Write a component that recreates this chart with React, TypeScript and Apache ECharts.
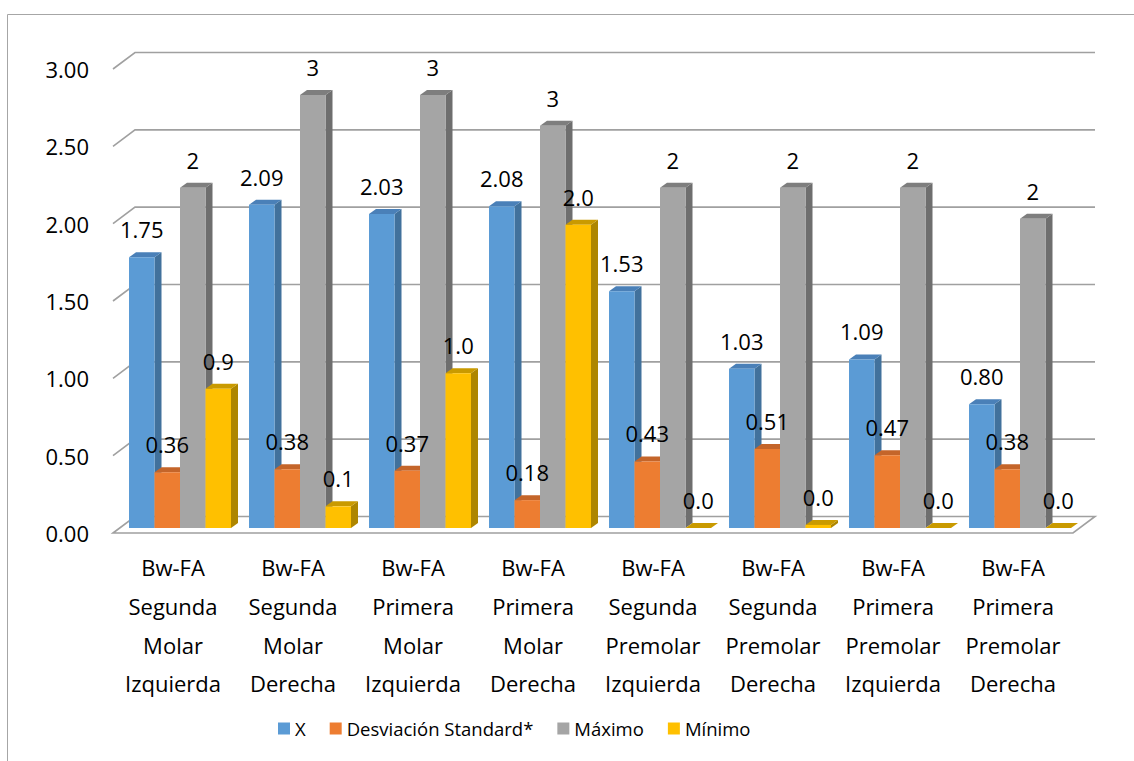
import React, { useEffect, useRef } from "react";
import * as echarts from "echarts";

const categories = [
  "Bw-FA\nSegunda\nMolar\nIzquierda",
  "Bw-FA\nSegunda\nMolar\nDerecha",
  "Bw-FA\nPrimera\nMolar\nIzquierda",
  "Bw-FA\nPrimera\nMolar\nDerecha",
  "Bw-FA\nSegunda\nPremolar\nIzquierda",
  "Bw-FA\nSegunda\nPremolar\nDerecha",
  "Bw-FA\nPrimera\nPremolar\nIzquierda",
  "Bw-FA\nPrimera\nPremolar\nDerecha",
];
const seriesNames = ["X", "Desviación Standard*", "Máximo", "Mínimo"];
const xMean = [1.75, 2.09, 2.03, 2.08, 1.53, 1.03, 1.09, 0.8];
const sdValues = [0.36, 0.38, 0.37, 0.18, 0.43, 0.51, 0.47, 0.38];
const maxValues = [2.2, 2.8, 2.8, 2.6, 2.2, 2.2, 2.2, 2.0];
const minValues = [0.9, 0.14, 1.0, 1.96, 0.0, 0.02, 0.0, 0.0];
const labelDecimals = [2, 2, 0, 1];
const yTicks = [0, 0.5, 1, 1.5, 2, 2.5, 3];

const FONT = "'Open Sans', 'Noto Sans', sans-serif";
const faceColors = [
  { front: "#5B9BD5", side: "#41719C", top: "#4A80B8" },
  { front: "#ED7D31", side: "#B55E22", top: "#C4652A" },
  { front: "#A5A5A5", side: "#6E6E6E", top: "#7E7E7E" },
  { front: "#FFC000", side: "#AE8600", top: "#C99A00" },
];

// 3D projection offsets
const WALL_DX = 22;
const WALL_DY = -16.5;
const FRONT_DX = 7;
const FRONT_DY = -5;
const BAR_DX = 7;
const BAR_DY = -5;
const BAR_FRAC = 0.2125;

function gridRender(params: any, api: any) {
  const cs = params.coordSys;
  const left = cs.x;
  const right = cs.x + cs.width;
  const v = api.value(1);
  const y = api.coord([0, v])[1];
  if (v === 0) {
    return {
      type: "polygon",
      shape: {
        points: [
          [left, y],
          [left + WALL_DX, y + WALL_DY],
          [right + WALL_DX, y + WALL_DY],
          [right, y],
        ],
      },
      style: { fill: "#FFFFFF", stroke: "#A0A0A0", lineWidth: 1.6 },
    };
  }
  return {
    type: "polyline",
    shape: {
      points: [
        [left, y],
        [left + WALL_DX, y + WALL_DY],
        [right + WALL_DX, y + WALL_DY],
      ],
    },
    style: { fill: "none", stroke: "#A0A0A0", lineWidth: 1.6 },
  };
}

function makeBarRender(k: number) {
  const c = faceColors[k];
  return (params: any, api: any) => {
    const i = api.value(0);
    const v = api.value(1);
    const base = api.coord([i, 0]);
    const top = api.coord([i, v]);
    const bw = api.size([1, 0])[0];
    const w = bw * BAR_FRAC;
    const cx = base[0] + FRONT_DX + (k - 1.5) * w;
    const x0 = cx - w / 2;
    const x1 = cx + w / 2;
    const yb = base[1] + FRONT_DY;
    const yt = top[1] + FRONT_DY;
    const zb = k * 3;
    return {
      type: "group",
      children: [
        {
          type: "polygon",
          z2: zb,
          shape: {
            points: [
              [x1, yt],
              [x1 + BAR_DX, yt + BAR_DY],
              [x1 + BAR_DX, yb + BAR_DY],
              [x1, yb],
            ],
          },
          style: { fill: c.side },
        },
        {
          type: "polygon",
          z2: zb + 1,
          shape: {
            points: [
              [x0, yt],
              [x0 + BAR_DX, yt + BAR_DY],
              [x1 + BAR_DX, yt + BAR_DY],
              [x1, yt],
            ],
          },
          style: { fill: c.top },
        },
        {
          type: "rect",
          z2: zb + 2,
          shape: { x: x0, y: yt, width: w, height: Math.max(0, yb - yt) },
          style: { fill: c.front },
        },
        {
          type: "text",
          z2: 100,
          style: {
            text: v.toFixed(labelDecimals[k]),
            x: cx,
            y: yt - 28,
            align: "center",
            verticalAlign: "middle",
            fill: "#000000",
            fontSize: 22,
            fontFamily: FONT,
          },
        },
      ],
    };
  };
}

const allValues = [xMean, sdValues, maxValues, minValues];

export default function App() {
  const ref = useRef<HTMLDivElement>(null);
  useEffect(() => {
    if (!ref.current) return;
    const chart = echarts.init(ref.current, null, { renderer: "svg" });
    const barSeries = allValues.map((vals, k) => ({
      type: "custom",
      name: seriesNames[k],
      z: 3,
      itemStyle: { color: faceColors[k].front },
      renderItem: makeBarRender(k),
      encode: { x: 0, y: 1 },
      data: vals.map((v, i) => [i, v]),
    }));
    chart.setOption({
      animation: false,
      backgroundColor: "#FFFFFF",
      graphic: [
        {
          type: "rect",
          silent: true,
          z: 0,
          shape: { x: 7.5, y: 14.5, width: 1300, height: 900 },
          style: { fill: "none", stroke: "#A6A6A6", lineWidth: 1 },
        },
      ],
      grid: { left: 113, right: 61, top: 69, bottom: 228, containLabel: false },
      xAxis: {
        type: "category",
        data: categories,
        axisLine: { show: false },
        axisTick: { show: false },
        splitLine: { show: false },
        axisLabel: {
          interval: 0,
          margin: 15,
          fontSize: 22,
          lineHeight: 38.7,
          fontFamily: FONT,
          color: "#000000",
        },
      },
      yAxis: {
        type: "value",
        min: 0,
        max: 3,
        interval: 0.5,
        axisLine: { show: false },
        axisTick: { show: false },
        splitLine: { show: false },
        axisLabel: {
          margin: 24,
          fontSize: 22,
          fontFamily: FONT,
          color: "#000000",
          formatter: (v: number) => v.toFixed(2),
        },
      },
      legend: {
        data: seriesNames.map((n) => ({ name: n, icon: "rect" })),
        left: 273,
        top: 714,
        itemWidth: 12,
        itemHeight: 12,
        itemGap: 24,
        textStyle: { fontSize: 18.5, fontFamily: FONT, color: "#000000" },
      },
      series: [
        {
          type: "custom",
          name: "grid",
          z: 1,
          silent: true,
          renderItem: gridRender,
          encode: { x: 0, y: 1 },
          data: yTicks.map((t) => [0, t]),
        },
        ...barSeries,
      ],
    });
    return () => chart.dispose();
  }, []);
  return (
    <div
      ref={ref}
      style={{ position: "fixed", left: 0, top: 0, width: 1134, height: 761 }}
    />
  );
}
